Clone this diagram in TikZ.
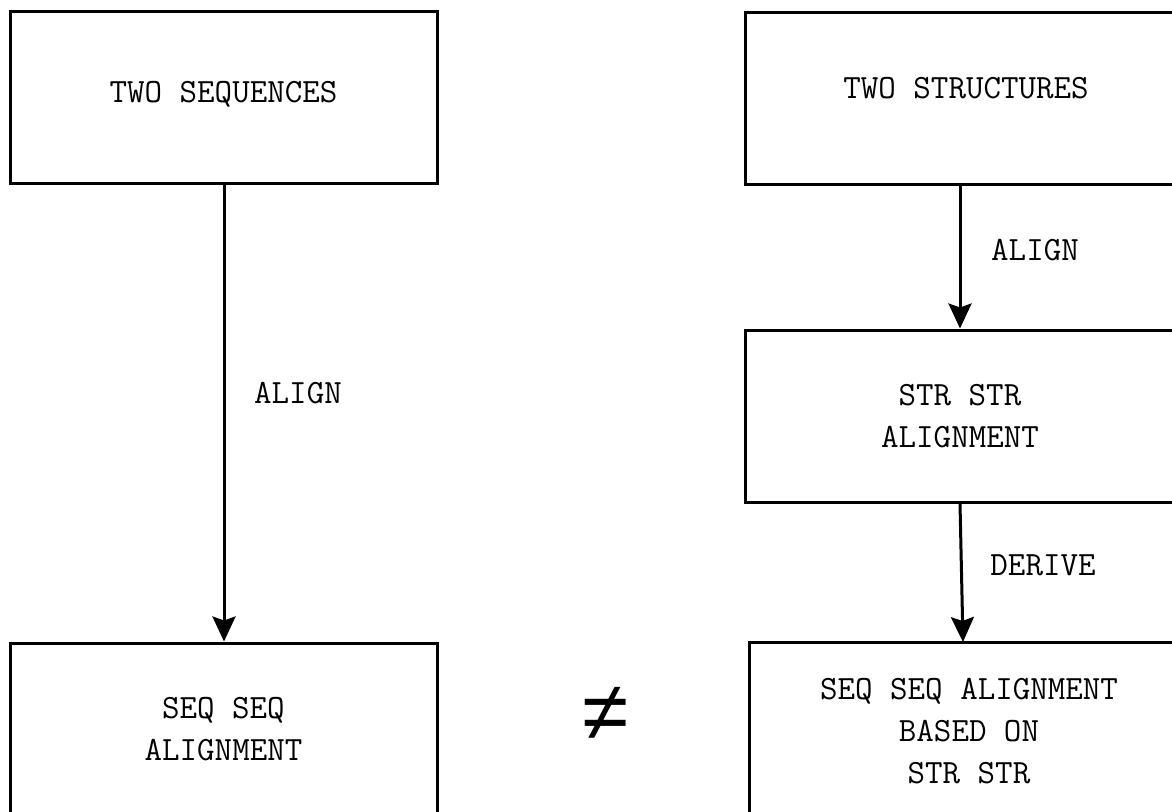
\documentclass[tikz,border=0pt]{standalone}
\usepackage{fontspec}
\newfontfamily\nefont{Liberation Mono}
\usetikzlibrary{arrows.meta}
\begin{document}
\begin{tikzpicture}[x=1pt,y=-1pt,
  box/.style={draw=black,line width=3pt,rectangle,inner sep=0pt,align=center,
    font=\ttfamily\fontsize{34}{42}\selectfont},
  lbl/.style={font=\ttfamily\fontsize{34}{42}\selectfont,inner sep=0pt},
  arr/.style={line width=3pt,-{Stealth[length=25pt,width=23pt,inset=4pt]}}]
\useasboundingbox (0,0) rectangle (1172,811);
\node[box,minimum width=427pt,minimum height=172pt] (tl) at (223.5,97.5) {\raisebox{11pt}{TWO SEQUENCES}};
\node[box,minimum width=427pt,minimum height=172pt] (bl) at (223.5,729) {SEQ SEQ\\ALIGNMENT};
\node[box,minimum width=442pt,minimum height=172pt] (tr) at (966,98) {\raisebox{21pt}{TWO STRUCTURES}};
\node[box,minimum width=430pt,minimum height=172pt] (mr) at (960,416) {STR STR\\ALIGNMENT};
\node[box,minimum width=440pt,minimum height=178pt] (br) at (969,731) {SEQ SEQ ALIGNMENT\\BASED ON\\STR STR};
\coordinate (a1) at (224,184);
\coordinate (a2) at (960,184);
\coordinate (a3) at (963,642);
\draw[arr] (a1) -- (a1 |- bl.north);
\draw[arr] (a2) -- (a2 |- mr.north);
\draw[arr] (mr.south) -- (a3);
\node[lbl] (l1) at (298,393) {ALIGN};
\node[lbl] (l2) at (1035,250) {ALIGN};
\node[lbl] (l3) at (1043,565) {DERIVE};
\node[font=\nefont\fontsize{84}{84}\selectfont,inner sep=0pt] (ne) at (606,714) {≠};
\end{tikzpicture}
\end{document}
